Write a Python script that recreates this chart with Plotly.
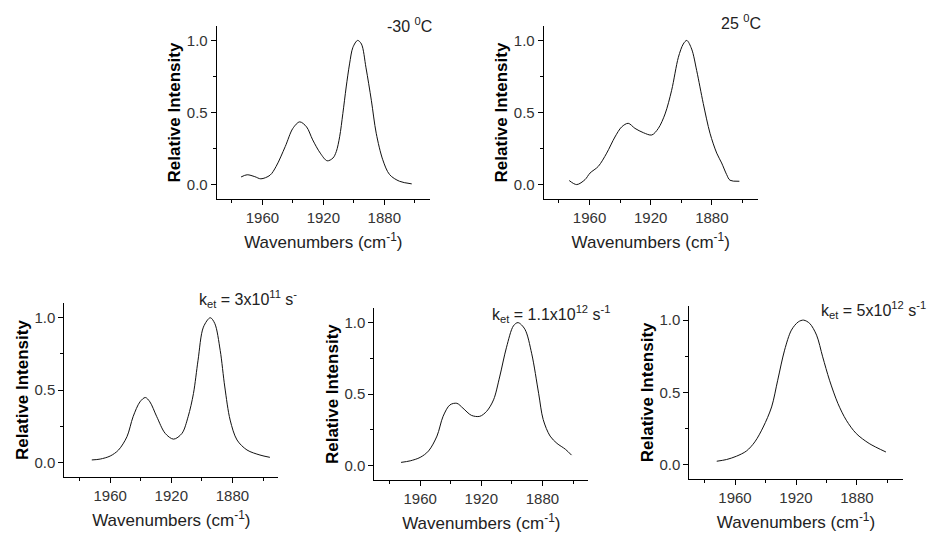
import plotly.graph_objects as go

W, H = 932, 533

# ---------------- data ----------------
wn_m30 = [1974, 1970, 1965, 1961, 1955, 1951, 1945, 1940, 1935.5, 1931, 1927, 1922,
          1917.5, 1913.7, 1911.5, 1909.3, 1907.2, 1905, 1902.8, 1900.6, 1897.5, 1895,
          1892, 1888.5, 1885.3, 1881, 1876.5, 1870, 1862]
int_m30 = [0.053, 0.068, 0.055, 0.040, 0.065, 0.126, 0.264, 0.39, 0.435, 0.40, 0.31, 0.218,
           0.165, 0.184, 0.229, 0.332, 0.493, 0.677, 0.837, 0.952, 1.0, 0.975,
           0.81, 0.585, 0.356, 0.172, 0.069, 0.023, 0.005]

wn_25 = [1973.3, 1968.4, 1963, 1959.7, 1954.3, 1948.8, 1943.4, 1939, 1934.7, 1930.3, 1924.8,
         1919.3, 1915, 1910.6, 1906.3, 1901.9, 1898.7, 1896.4, 1893.2, 1889.9, 1885.6,
         1881.2, 1876.8, 1873.6, 1870.3, 1868.1, 1862]
int_25 = [0.028, 0.0, 0.034, 0.08, 0.126, 0.218, 0.33, 0.40, 0.425, 0.39, 0.36,
          0.344, 0.39, 0.49, 0.654, 0.883, 0.975, 1.0, 0.94, 0.79, 0.562,
          0.356, 0.218, 0.15, 0.069, 0.03, 0.023]

wn_k3e11 = [1972, 1966.5, 1960, 1954.5, 1949, 1945, 1940.5, 1937, 1934, 1929.5, 1924, 1918.5,
            1913, 1909, 1905.5, 1902.5, 1899, 1894.5, 1891.5, 1888, 1885, 1881.5, 1877,
            1870.5, 1862, 1855.5]
int_k3e11 = [0.016, 0.022, 0.043, 0.085, 0.177, 0.315, 0.418, 0.448, 0.418, 0.315, 0.2, 0.16,
             0.2, 0.315, 0.476, 0.706, 0.935, 1.0, 0.959, 0.774, 0.521, 0.292, 0.154,
             0.085, 0.05, 0.034]

wn_k11e12 = [1972.5, 1966.5, 1960, 1954.5, 1949, 1945, 1940.5, 1936, 1932, 1926.5, 1921,
             1916.5, 1912, 1908, 1903.5, 1899, 1896, 1891.5, 1887, 1882.5, 1879.5, 1875,
             1870.5, 1865, 1861]
int_k11e12 = [0.023, 0.034, 0.058, 0.103, 0.207, 0.345, 0.425, 0.436, 0.402, 0.352, 0.345,
              0.38, 0.46, 0.62, 0.828, 0.977, 1.0, 0.954, 0.782, 0.506, 0.322, 0.207,
              0.156, 0.115, 0.074]

wn_k5e12 = [1972, 1965.5, 1959, 1952.5, 1947, 1941.5, 1936, 1932, 1927.5, 1923, 1918.5, 1915,
            1911, 1906.5, 1902.5, 1898, 1892.5, 1887, 1880.5, 1872, 1861]
int_k5e12 = [0.023, 0.035, 0.058, 0.094, 0.157, 0.26, 0.399, 0.584, 0.792, 0.931, 0.988, 1.0,
             0.977, 0.896, 0.746, 0.584, 0.423, 0.307, 0.215, 0.146, 0.087]

labels = ["-30 <sup>0</sup>C", "25 <sup>0</sup>C",
          "k<sub>et</sub> = 3x10<sup>11</sup> s<sup>-</sup>",
          "k<sub>et</sub> = 1.1x10<sup>12</sup> s<sup>-1</sup>",
          "k<sub>et</sub> = 5x10<sup>12</sup> s<sup>-1</sup>"]

x_tickvals = [1960, 1920, 1880]
y_tickvals = [0.0, 0.5, 1.0]
x_title = "Wavenumbers (cm<sup>-1</sup>)"
y_title = "Relative Intensity"

series = [(wn_m30, int_m30), (wn_25, int_25), (wn_k3e11, int_k3e11),
          (wn_k11e12, int_k11e12), (wn_k5e12, int_k5e12)]

# ---------------- layout geometry (pixels) ----------------
boxes = [  # x0, x1, ytop, ybottom
    (216.7, 430.0, 26.0, 199.0),
    (543.7, 757.7, 26.0, 199.0),
    (64.3, 278.3, 303.3, 476.7),
    (374.3, 588.3, 308.3, 480.0),
    (689.3, 902.7, 305.7, 479.0),
]
label_pos = [(385, 25), (719, 22), (197, 299), (490, 314), (819, 309.5)]

FONT = "Liberation Sans, Arial, sans-serif"
fig = go.Figure()
layout = dict(
    width=W, height=H, margin=dict(l=0, r=0, t=0, b=0),
    paper_bgcolor="white", plot_bgcolor="white", showlegend=False,
    font=dict(family=FONT, color="#222"),
)
annotations = []
for i, ((wn, iv), (x0, x1, yt, yb), lab, (lx, ly)) in enumerate(
        zip(series, boxes, labels, label_pos)):
    sfx = "" if i == 0 else str(i + 1)
    fig.add_trace(go.Scatter(
        x=wn, y=iv, mode="lines", xaxis="x" + sfx, yaxis="y" + sfx,
        line=dict(color="#111", width=1, shape="spline", smoothing=0.9),
        hoverinfo="skip"))
    layout["xaxis" + sfx] = dict(
        domain=[x0 / W, x1 / W], anchor="y" + sfx, range=[1990, 1850],
        tickvals=x_tickvals, ticks="outside", ticklen=5, tickwidth=1, tickcolor="#000",
        showline=True, linecolor="#000", linewidth=1, showgrid=False, zeroline=False,
        tickfont=dict(size=15, color="#333", family=FONT),
        minor=dict(tickvals=[1980, 1940, 1900, 1860], ticks="outside", ticklen=3,
                   tickcolor="#000", showgrid=False),
        title=dict(text=x_title, font=dict(size=17, color="#222", family=FONT), standoff=11),
    )
    layout["yaxis" + sfx] = dict(
        domain=[1 - yb / H, 1 - yt / H], anchor="x" + sfx, range=[-0.1, 1.1],
        tickvals=y_tickvals, tickformat=".1f", ticks="outside", ticklen=5, tickwidth=1,
        tickcolor="#000", showline=True, linecolor="#000", linewidth=1,
        showgrid=False, zeroline=False,
        tickfont=dict(size=15, color="#333", family=FONT),
        minor=dict(tickvals=[0.25, 0.75], ticks="outside", ticklen=3, tickcolor="#000",
                   showgrid=False),
        title=dict(text=y_title, font=dict(size=17, color="#000", family=FONT, weight="bold"),
                   standoff=1),
    )
    annotations.append(dict(
        text=lab, x=lx / W, y=1 - ly / H, xref="paper", yref="paper",
        xanchor="left", yanchor="middle", showarrow=False,
        font=dict(size=16, color="#222", family=FONT)))

layout["annotations"] = annotations
fig.update_layout(**layout)
fig.write_html("out.html")
